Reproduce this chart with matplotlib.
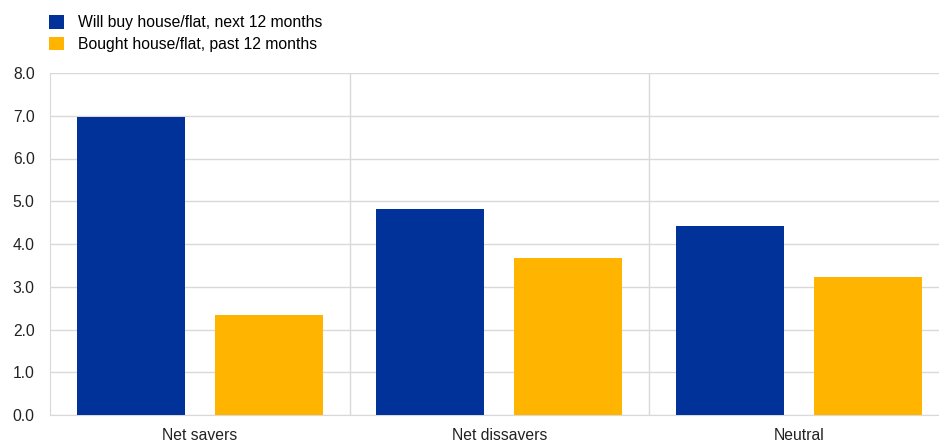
import numpy as np
import matplotlib
matplotlib.use('Agg')
import matplotlib.pyplot as plt

# chart data
categories = ['Net savers', 'Net dissavers', 'Neutral']
will_buy = [6.97, 4.82, 4.41]
bought = [2.33, 3.68, 3.23]
series_labels = ['Will buy house/flat, next 12 months', 'Bought house/flat, past 12 months']
y_ticks = [0.0, 1.0, 2.0, 3.0, 4.0, 5.0, 6.0, 7.0, 8.0]

BLUE = '#003299'
YELLOW = '#FFB400'
GRID = '#d9d9d9'
FS = 11.3

plt.rcParams['font.family'] = ['Liberation Sans', 'DejaVu Sans']

fig = plt.figure(figsize=(9.39, 4.41), dpi=100)
ax = fig.add_axes([50 / 939, 26 / 441, 889 / 939, 342 / 441])

x = np.arange(len(categories))
width = 0.36
offset = 0.23
ax.bar(x - offset, will_buy, width, color=BLUE, label=series_labels[0], zorder=3)
ax.bar(x + offset, bought, width, color=YELLOW, label=series_labels[1], zorder=3)

ax.set_ylim(0, 8)
ax.set_yticks(y_ticks)
ax.set_yticklabels([f'{v:.1f}' for v in y_ticks])
ax.set_xlim(-0.5, 2.5 - 9.5 / 299.5)
ax.set_xticks(x)
ax.set_xticklabels(categories)

# grid lines: horizontal at ticks, vertical at category boundaries
ax.yaxis.grid(True, color=GRID, linewidth=1, zorder=0)
for b in [0.5, 1.5]:
    ax.axvline(b, color=GRID, linewidth=1, zorder=0)

for side in ['top', 'right']:
    ax.spines[side].set_visible(False)
ax.spines['left'].set_color(GRID)
ax.spines['bottom'].set_color(GRID)
ax.tick_params(axis='both', length=0, labelsize=FS, colors='#222222')
ax.tick_params(axis='y', pad=11)
ax.tick_params(axis='x', pad=9)

ax.legend(loc='upper left', bbox_to_anchor=(-7 / 889, 1 + 64 / 342), frameon=False,
          fontsize=FS, handlelength=0.95, handleheight=0.95, handletextpad=0.85,
          labelspacing=0.4, borderaxespad=0)

fig.savefig('out.png', dpi=100)
